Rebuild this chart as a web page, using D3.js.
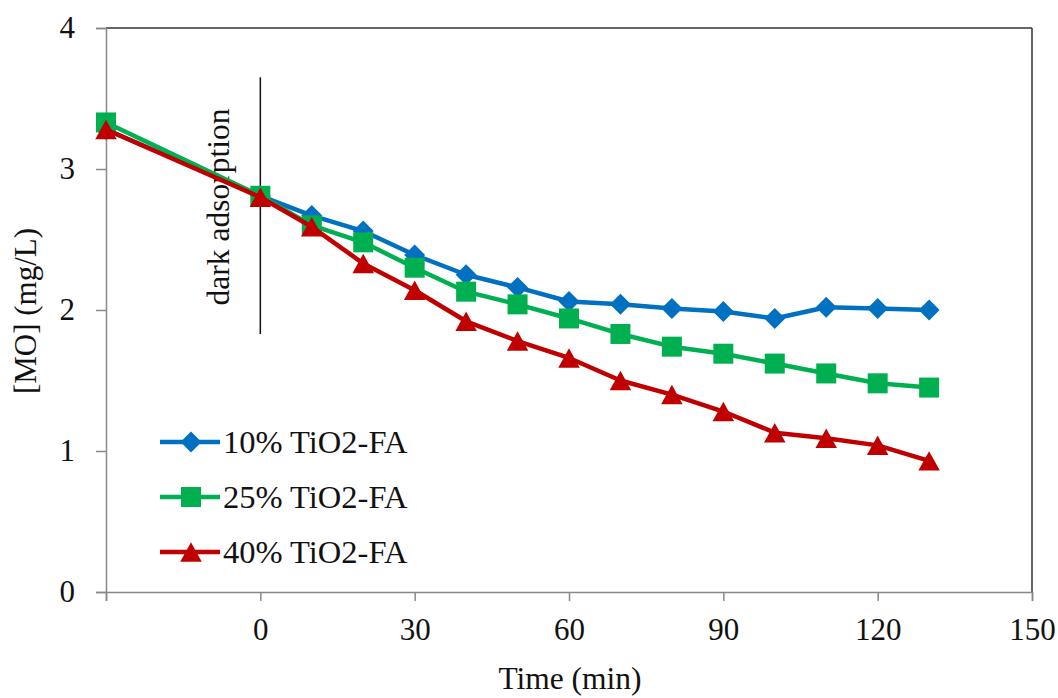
<!DOCTYPE html>
<html><head><meta charset="utf-8">
<script src="https://cdn.jsdelivr.net/npm/d3@7"></script>
<style>body{margin:0;background:#fff}svg{display:block}</style>
</head><body>
<svg id="c" width="1058" height="698"></svg>
<script>
const times = [-30, 0, 10, 20, 30, 40, 50, 60, 70, 80, 90, 100, 110, 120, 130];
const s10 = [3.28, 2.81, 2.67, 2.56, 2.39, 2.25, 2.16, 2.06, 2.04, 2.01, 1.99, 1.94, 2.02, 2.01, 2.00];
const s25 = [3.33, 2.81, 2.60, 2.48, 2.30, 2.13, 2.04, 1.94, 1.83, 1.74, 1.69, 1.62, 1.55, 1.48, 1.45];
const s40 = [3.28, 2.80, 2.59, 2.33, 2.14, 1.92, 1.78, 1.66, 1.50, 1.40, 1.28, 1.13, 1.09, 1.04, 0.93];
const seriesNames = ["10% TiO2-FA", "25% TiO2-FA", "40% TiO2-FA"];
const xTicks = [-30, 0, 30, 60, 90, 120, 150];
const yTicks = [0, 1, 2, 3, 4];
const darkLine = {t: 0, y0: 1.83, y1: 3.65};

const svg = d3.select("#c");
const font = "'Liberation Serif','Times New Roman',serif";
const x = d3.scaleLinear().domain([-30, 150]).range([106, 1032]);
const y = d3.scaleLinear().domain([0, 4]).range([592, 28]);
const colors = ["#0070C0", "#00B050", "#C00000"];

const diamondSym = {draw(ctx, size) { const r = Math.sqrt(size) / 2; ctx.moveTo(0, -r); ctx.lineTo(r, 0); ctx.lineTo(0, r); ctx.lineTo(-r, 0); ctx.closePath(); }};
const squareSym = {draw(ctx, size) { const r = Math.sqrt(size) / 2; ctx.rect(-r, -r, 2 * r, 2 * r); }};
const triSym = {draw(ctx, size) { const r = Math.sqrt(size) / 2; ctx.moveTo(0, -r * 0.95); ctx.lineTo(r * 1.05, r * 0.95); ctx.lineTo(-r * 1.05, r * 0.95); ctx.closePath(); }};
const symbols = [diamondSym, squareSym, triSym];
const symSizes = [440, 400, 420];

// top & right borders
svg.append("line").attr("x1", x(-30)).attr("x2", x(150)).attr("y1", y(4)).attr("y2", y(4)).attr("stroke", "#333").attr("stroke-width", 1.5);
svg.append("line").attr("x1", x(150)).attr("x2", x(150)).attr("y1", y(4)).attr("y2", y(0)).attr("stroke", "#333").attr("stroke-width", 1.5);

// axes
const xAxis = svg.append("g").attr("transform", `translate(0,${y(0)})`)
  .call(d3.axisBottom(x).tickValues(xTicks).tickSize(9).tickPadding(17).tickFormat(d => d === -30 ? "" : d));
const yAxis = svg.append("g").attr("transform", `translate(${x(-30)},0)`)
  .call(d3.axisLeft(y).tickValues(yTicks).tickSize(10).tickPadding(21).tickFormat(d3.format("d")));
[xAxis, yAxis].forEach(g => {
  g.select(".domain").attr("stroke", "#888").attr("stroke-width", 1.5);
  g.selectAll(".tick line").attr("stroke", "#888").attr("stroke-width", 1.5);
  g.selectAll("text").attr("font-family", font).attr("font-size", 31).attr("fill", "#111");
});

// dark adsorption line
svg.append("line").attr("x1", x(darkLine.t)).attr("x2", x(darkLine.t)).attr("y1", y(darkLine.y0)).attr("y2", y(darkLine.y1)).attr("stroke", "#111").attr("stroke-width", 1.5);
svg.append("text").attr("transform", `translate(229,207) rotate(-90)`).attr("text-anchor", "middle")
  .attr("font-family", font).attr("font-size", 31.5).attr("fill", "#111").text("dark adsorption");

// series
const line = d3.line().x((d, i) => x(times[i])).y(d => y(d));
[s10, s25, s40].forEach((s, k) => {
  svg.append("path").datum(s).attr("d", line).attr("fill", "none").attr("stroke", colors[k]).attr("stroke-width", 4.5).attr("stroke-linejoin", "round");
  svg.append("g").selectAll("path").data(s).join("path")
    .attr("transform", (d, i) => `translate(${x(times[i])},${y(d)})`)
    .attr("d", d3.symbol().type(symbols[k]).size(symSizes[k])).attr("fill", colors[k]);
});

// legend
const legY = [442, 497, 552];
seriesNames.forEach((n, k) => {
  const g = svg.append("g").attr("transform", `translate(0,${legY[k]})`);
  g.append("line").attr("x1", 160).attr("x2", 220).attr("stroke", colors[k]).attr("stroke-width", 4.5);
  g.append("path").attr("transform", `translate(191,0)`).attr("d", d3.symbol().type(symbols[k]).size(symSizes[k])).attr("fill", colors[k]);
  g.append("text").attr("x", 223).attr("y", 11).attr("font-family", font).attr("font-size", 32.5).attr("fill", "#111").text(n);
});

// axis titles
svg.append("text").attr("x", 570).attr("y", 689).attr("text-anchor", "middle").attr("font-family", font).attr("font-size", 31.5).attr("fill", "#111").text("Time (min)");
svg.append("text").attr("transform", `translate(36,311) rotate(-90)`).attr("text-anchor", "middle").attr("font-family", font).attr("font-size", 31).attr("fill", "#111").text("[MO] (mg/L)");
</script>
</body></html>
